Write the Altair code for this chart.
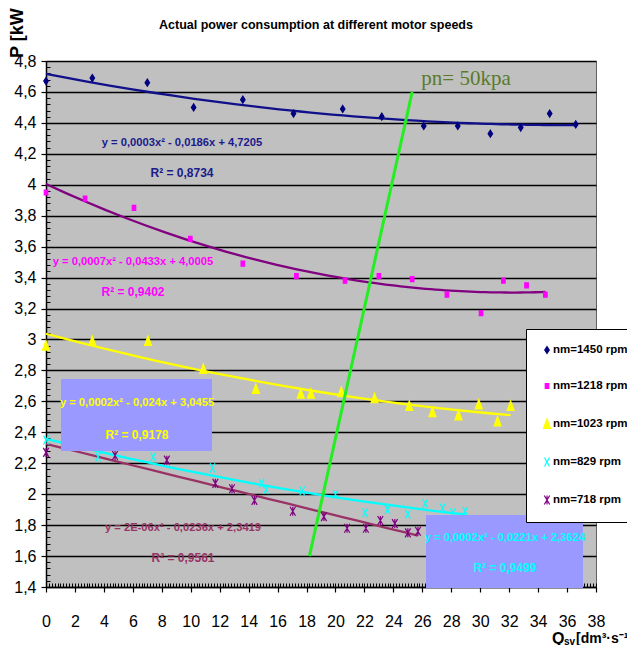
import altair as alt
import pandas as pd

# ---------------- data ----------------
SERIES = ["nm=1450 rpm", "nm=1218 rpm", "nm=1023 rpm", "nm=829 rpm", "nm=718 rpm"]

Q_1450 = [0, 3.2, 7.0, 10.2, 13.6, 17.1, 20.5, 23.2, 26.1, 28.45, 30.7, 32.8, 34.8, 36.6]
P_1450 = [4.67, 4.69, 4.66, 4.50, 4.55, 4.46, 4.49, 4.44, 4.38, 4.38, 4.33, 4.37, 4.46, 4.39]

Q_1218 = [0, 2.7, 6.08, 9.97, 13.6, 17.3, 20.66, 23.0, 25.3, 27.7, 30.06, 31.6, 33.2, 34.5]
P_1218 = [3.95, 3.91, 3.85, 3.65, 3.49, 3.41, 3.38, 3.41, 3.39, 3.29, 3.17, 3.38, 3.35, 3.29]

Q_1023 = [0, 3.2, 7.05, 10.87, 14.5, 17.6, 18.3, 20.4, 22.7, 25.1, 26.7, 28.5, 29.9, 31.2, 32.1]
P_1023 = [2.96, 2.99, 2.99, 2.81, 2.68, 2.65, 2.65, 2.66, 2.62, 2.57, 2.53, 2.51, 2.58, 2.47, 2.57]

Q_829 = [0, 3.6, 7.4, 11.5, 14.9, 15.2, 17.7, 20.0, 22.05, 23.6, 25.0, 26.2, 27.4, 28.1, 28.96]
P_829 = [2.35, 2.24, 2.24, 2.17, 2.07, 2.03, 2.02, 2.00, 1.88, 1.90, 1.87, 1.94, 1.91, 1.88, 1.89]

Q_718 = [0, 4.77, 8.35, 11.7, 12.85, 14.4, 17.05, 19.2, 20.8, 22.1, 23.1, 24.1, 25.0, 25.7]
P_718 = [2.27, 2.25, 2.22, 2.07, 2.035, 1.96, 1.89, 1.855, 1.78, 1.78, 1.83, 1.81, 1.75, 1.76]

EQUATIONS = [
    "y = 0,0003x² - 0,0186x + 4,7205",
    "y = 0,0007x² - 0,0433x + 4,0005",
    "y = 0,0002x² - 0,024x + 3,0455",
    "y = 0,0002x² - 0,0221x + 2,3624",
    "y = 2E-06x² - 0,0236x + 2,3419",
]
R2 = ["R² = 0,8734", "R² = 0,9402", "R² = 0,9178", "R² = 0,9499", "R² = 0,9561"]

PN_Q = [18.2, 25.3]
PN_P = [1.60, 4.60]
PN_LABEL = "pn= 50kpa"

TITLE = "Actual power consumption at different motor speeds"
Y_TITLE = "P [kW]"

X_TICKS = list(range(0, 39, 2))
Y_TICKS = [round(1.4 + 0.2 * i, 1) for i in range(18)]
X_MINOR = [round(0.2 * i, 1) for i in range(191)]
Y_MINOR = [round(1.4 + 0.04 * i, 2) for i in range(86)]

# ---------------- styles ----------------
MARKER_COLORS = ["#000080", "#FF00FF", "#FFFF00", "#00FFFF", "#800080"]
LINE_COLORS = ["#10108A", "#800080", "#FFFF00", "#00FFFF", "#993366"]
TEXT_COLORS = ["#1A1A8C", "#FF00FF", "#FFFF00", "#00FFFF", "#993366"]
SHAPES = [
    "M0,-0.7L0.45,0L0,0.7L-0.45,0Z",
    "M-0.35,-0.5H0.35V0.5H-0.35Z",
    "M0,-1L0.7,0.9H-0.7Z",
    "M-0.5,-0.9L0.5,0.9M-0.5,0.9L0.5,-0.9",
    "M-0.55,-0.9L0.55,0.9M-0.55,0.9L0.55,-0.9M0,-0.9V0.9",
]
FONT = "Liberation Sans, Arial, sans-serif"
SERIF = "Liberation Serif, Times New Roman, serif"
BG = "#C0C0C0"
BOX = "#9999FF"

W, H = 550, 526

rows = []
for name, qs, ps in zip(SERIES,
                        [Q_1450, Q_1218, Q_1023, Q_829, Q_718],
                        [P_1450, P_1218, P_1023, P_829, P_718]):
    for q, p in zip(qs, ps):
        rows.append({"series": name, "Q": q, "P": p})
df = pd.DataFrame(rows)
pn_df = pd.DataFrame({"Q": PN_Q, "P": PN_P})
ONE = alt.Data(values=[{"a": 1}])

xs = alt.Scale(domain=[0, 38], nice=False, zero=False)
ys = alt.Scale(domain=[1.4, 4.8], nice=False, zero=False)

# minor inside ticks
minor = alt.Chart(pd.DataFrame({"Q": [0], "P": [1.4]})).mark_point(opacity=0).encode(
    x=alt.X("Q:Q", scale=xs, axis=alt.Axis(orient="bottom", values=X_MINOR, labels=False,
                                           domain=False, grid=False, tickSize=4, offset=-4,
                                           tickColor="black", tickWidth=1, title=None)),
    y=alt.Y("P:Q", scale=ys, axis=alt.Axis(orient="left", values=Y_MINOR, labels=False,
                                           domain=False, grid=False, tickSize=4, offset=-4,
                                           tickColor="black", tickWidth=1, title=None)),
)

# quadratic trend lines (computed by Vega-Lite from the points)
lc_expr = " : ".join(
    f"datum.series == '{s}' ? '{c}'" for s, c in zip(SERIES, LINE_COLORS)
) + " : 'black'"
trend = alt.Chart(df).transform_regression(
    "Q", "P", method="poly", order=2, groupby=["series"]
).transform_calculate(lc=lc_expr).mark_line(strokeWidth=2.3).encode(
    x=alt.X("Q:Q", scale=xs, axis=None),
    y=alt.Y("P:Q", scale=ys, axis=None),
    stroke=alt.Stroke("lc:N", scale=None),
    detail="series:N",
)

leg = alt.Legend(title=None, orient="none", legendX=480, legendY=268,
                 fillColor="white", strokeColor="black", padding=15,
                 rowPadding=24, labelOffset=0, labelFont=FONT, labelFontSize=11.5,
                 labelFontWeight="bold", labelColor="black", labelLimit=300,
                 symbolStrokeWidth=1.2, symbolSize=100)
points = alt.Chart(df).mark_point(filled=True, size=100, strokeWidth=1.2, opacity=1).encode(
    x=alt.X("Q:Q", scale=xs, axis=alt.Axis(orient="bottom", values=X_TICKS, grid=False,
                                           tickSize=5, labelPadding=21, labelFontSize=16,
                                           labelFlush=False, labelOverlap=False,
                                           title=None)),
    y=alt.Y("P:Q", scale=ys, axis=alt.Axis(orient="left", values=Y_TICKS, grid=True,
                                           tickSize=5, labelPadding=5, labelFontSize=16,
                                           labelFlush=False, labelOverlap=False,
                                           labelExpr="replace(format(datum.value, '.1~f'), '.', ',')",
                                           title=None)),
    color=alt.Color("series:N", scale=alt.Scale(domain=SERIES, range=MARKER_COLORS), legend=leg),
    stroke=alt.Stroke("series:N", scale=alt.Scale(domain=SERIES, range=MARKER_COLORS), legend=leg),
    shape=alt.Shape("series:N", scale=alt.Scale(domain=SERIES, range=SHAPES), legend=leg),
)

pn_line = alt.Chart(pn_df).mark_line(color="#22EE22", strokeWidth=3).encode(
    x=alt.X("Q:Q", scale=xs, axis=None),
    y=alt.Y("P:Q", scale=ys, axis=None),
)


def box(x, y, x2, y2):
    return alt.Chart(ONE).mark_rect(color=BOX).encode(
        x=alt.value(x), x2=alt.value(x2), y=alt.value(y), y2=alt.value(y2))


def label(text, x, y, color, size=11.2, font=FONT, weight="bold", **kw):
    return alt.Chart(ONE).mark_text(font=font, fontSize=size, fontWeight=weight,
                                    color=color, **kw).encode(
        x=alt.value(x), y=alt.value(y), text=alt.value(text))


EQ_POS = [(136, 82, 112), (87, 201, 231), (91, 342, 374), (459, 477, 507), (137, 467, 497)]

layers = [minor, trend, points, pn_line,
          box(15, 318, 166, 390), box(380, 454, 537, 527)]
for i in range(5):
    cx, y1, y2 = EQ_POS[i]
    layers.append(label(EQUATIONS[i], cx, y1, TEXT_COLORS[i], align="center", baseline="middle"))
    layers.append(label(R2[i], cx, y2, TEXT_COLORS[i], size=12, align="center", baseline="middle"))

layers.append(label(PN_LABEL, 420, 18, "#5A7A2A", size=21, font=SERIF, weight="normal",
                    align="center", baseline="middle"))
layers.append(label(TITLE, 270, -32, "black", size=12.5, align="center", baseline="alphabetic"))
layers.append(label(Y_TITLE, -28, -3, "black", size=18, align="left",
                    baseline="middle", angle=270))
layers.append(label("Q", 506, 583, "black", size=16, align="left", baseline="alphabetic"))
layers.append(label("sv", 518, 583.5, "black", size=10, align="left", baseline="alphabetic"))
layers.append(label("[dm³·s⁻¹]", 530, 582, "black", size=14, align="left", baseline="alphabetic"))

chart = alt.layer(*layers).resolve_axis(x="independent", y="independent").properties(
    width=W, height=H,
    autosize=alt.AutoSizeParams(type="none"),
    padding={"left": 38, "top": 53, "right": 31, "bottom": 58},
).configure_view(fill=BG, stroke="#606060", strokeWidth=1).configure_axis(
    labelFont=FONT, labelColor="black", tickColor="black", domainColor="black",
    domainWidth=1.5, gridColor="black", gridWidth=1.5, tickWidth=1.2,
)

chart.save("out.html", embed_options={"renderer": "svg", "actions": False})
